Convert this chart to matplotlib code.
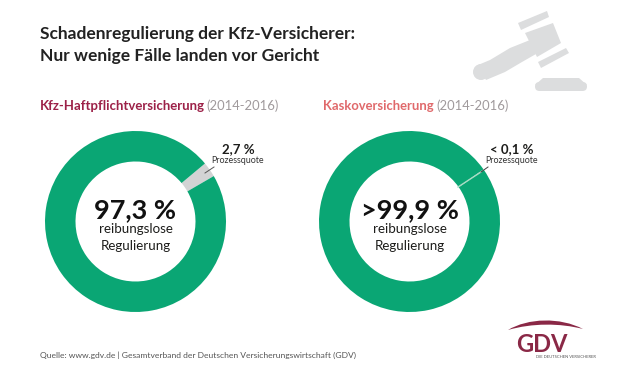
#! /usr/bin/env python3

import matplotlib
matplotlib.use('Agg')
import matplotlib.pyplot as plt
from matplotlib.patches import Polygon, Circle, FancyBboxPatch, PathPatch
from matplotlib.path import Path

plt.rcParams['font.family'] = ['Lato', 'DejaVu Sans']

title_lines = ['Schadenregulierung der Kfz-Versicherer:', 'Nur wenige Fälle landen vor Gericht']
chart_names = ['Kfz-Haftpflichtversicherung', 'Kaskoversicherung']
years = '(2014-2016)'
court_share = [2.7, 0.1]
settled_share = [97.3, 99.9]
big_labels = ['97,3 %', '>99,9 %']
small_labels = ['2,7 %', '< 0,1 %']
source = 'Quelle: www.gdv.de | Gesamtverband der Deutschen Versicherungswirtschaft (GDV)'

green = '#0aa674'
grey = '#d2d3d4'
dark = '#1d1d1b'
name_colors = ['#9c2148', '#e0696b']
H = 383

fig = plt.figure(figsize=(6.21, 3.83), dpi=100)
ax = fig.add_axes([0, 0, 1, 1])


def txt(x, y, s, **kw):
    kw.setdefault('color', dark)
    kw.setdefault('va', 'baseline')
    return ax.text(x, H - y, s, **kw)


def flip(pts):
    return [(x, H - y) for x, y in pts]


# donuts
centers = [(135.5, 221.5), (409.5, 221.5)]
R = 90.5
for i, (cx, cy) in enumerate(centers):
    start = 35 - court_share[i] * 3.6 / 2
    wedges, _ = ax.pie([court_share[i], settled_share[i]], colors=[grey, green],
                       center=(cx, H - cy), radius=R, startangle=start,
                       wedgeprops=dict(width=30.5, linewidth=0), frame=True)

ax.set_xlim(0, 621)
ax.set_ylim(0, H)
ax.set_aspect('auto')
ax.axis('off')

# titles
for y, line in zip([39, 61], title_lines):
    txt(40, y, line, fontsize=12.5, fontweight='bold', color='#222222')

txt(40, 110, chart_names[0], fontsize=9.5, fontweight='bold', color=name_colors[0])
txt(206, 110, years, fontsize=9.4, color='#a09a9c')
txt(323, 110, chart_names[1], fontsize=9.4, fontweight='bold', color=name_colors[1])
txt(436, 110, years, fontsize=9.4, color='#a09a9c')

# centre labels
for (cx, cy), big in zip(centers, big_labels):
    txt(cx, 218, big, fontsize=19.5, fontweight='bold', ha='center', color='#111111')
    txt(cx, 233, 'reibungslose', fontsize=9.6, ha='center')
    txt(cx, 250, 'Regulierung', fontsize=9.6, ha='center')

# small labels with leader lines
for x, lab in zip([238, 512], small_labels):
    txt(x, 153, lab, fontsize=9.5, fontweight='bold', ha='center')
    txt(x, 163, 'Prozessquote', fontsize=6.4, ha='center', color='#333333')

ax.plot([205, 214], [H - 173, H - 167], color='#555555', lw=0.7)
ax.plot([458, 481], [H - 187, H - 172], color='#a8dcc4', lw=1.0)
ax.plot([481, 488], [H - 172, H - 167], color='#444444', lw=0.7)

# gavel icon
gavel = '#dcddde'
for pts in ([(518, 23), (547, 11), (549, 17), (521, 30)],
            [(525, 33), (553, 23), (561, 43), (537, 57)],
            [(538, 62), (566, 48), (569, 53), (541, 68)],
            [(530, 40), (510, 48), (490, 60), (478, 65), (486, 80), (505, 72), (522, 62), (536, 54)]):
    ax.add_patch(Polygon(flip(pts), closed=True, fc=gavel, ec='none'))
ax.add_patch(Circle((481, H - 72), 8, fc=gavel, ec='none'))
ax.add_patch(Polygon(flip([(535, 85), (587, 85), (579, 78), (543, 78)]), closed=True, fc=gavel, ec='none'))
ax.add_patch(FancyBboxPatch((535, H - 91), 52, 9, boxstyle='round,pad=0,rounding_size=4.5',
                            fc=gavel, ec='none'))

# source
txt(40, 358, source, fontsize=6.1, color='#555555')

# logo
logo = '#8a2846'
arc = Path(flip([(508, 330), (528, 318), (560, 317), (583, 329), (560, 323), (532, 323), (508, 330)]),
           [Path.MOVETO, Path.CURVE4, Path.CURVE4, Path.CURVE4, Path.CURVE4, Path.CURVE4, Path.CURVE4])
ax.add_patch(PathPatch(arc, fc=logo, ec='none'))
txt(542, 352, 'GDV', fontsize=17, ha='center', fontweight='bold', color=logo)
txt(566, 358, 'DIE DEUTSCHEN VERSICHERER', fontsize=3, ha='center', color='#555555')

fig.savefig('out.png', dpi=100)
